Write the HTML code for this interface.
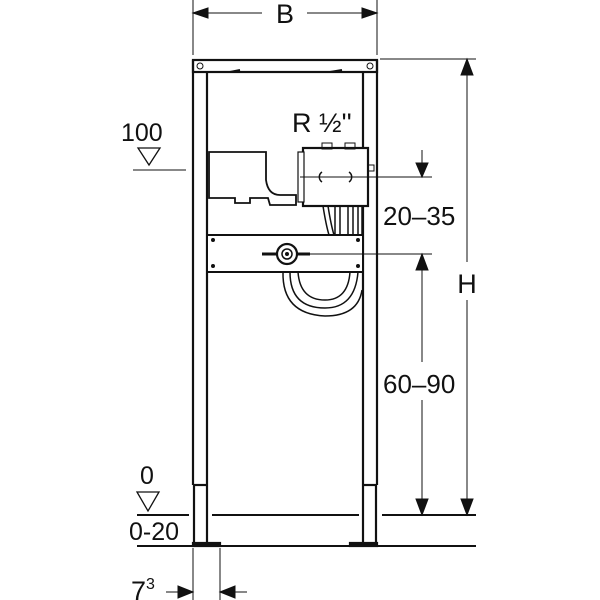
<!DOCTYPE html>
<html><head><style>body{margin:0;background:#fff}svg{display:block}text{font-family:"Liberation Sans",sans-serif;fill:#111}</style></head><body>
<svg width="600" height="600" viewBox="0 0 600 600" stroke="#111" fill="none">
<!-- B dimension -->
<line x1="193" y1="0" x2="193" y2="55" stroke-width="1"/>
<line x1="377" y1="0" x2="377" y2="55" stroke-width="1"/>
<line x1="193" y1="13" x2="262" y2="13"/><line x1="307" y1="13" x2="377" y2="13"/>
<polygon points="193,13 208,8 208,18" fill="#111"/><polygon points="377,13 362,8 362,18" fill="#111"/>
<text x="285" y="23" font-size="27" text-anchor="middle" stroke="none">B</text>
<!-- frame -->
<g stroke-width="2.2">
<rect x="193" y="60" width="184" height="12"/>
<line x1="193" y1="60" x2="193" y2="485"/><line x1="207" y1="72" x2="207" y2="485"/>
<line x1="363" y1="72" x2="363" y2="485"/><line x1="377" y1="60" x2="377" y2="485"/>
<line x1="193" y1="485" x2="207" y2="485"/><line x1="363" y1="485" x2="377" y2="485"/>
<line x1="194" y1="485" x2="194" y2="545"/><line x1="207" y1="485" x2="207" y2="545"/>
<line x1="363" y1="485" x2="363" y2="545"/><line x1="376" y1="485" x2="376" y2="545"/>
<rect x="193" y="543" width="27" height="3" fill="#111"/>
<rect x="350" y="543" width="27" height="3" fill="#111"/>
</g>
<circle cx="200" cy="66" r="3"/><circle cx="370" cy="66" r="3"/>
<line x1="230" y1="72" x2="240" y2="70" stroke-width="2"/><line x1="330" y1="72" x2="342" y2="70" stroke-width="2"/>
<!-- left box -->
<path d="M209,152 H266 V180 Q268,195 280,195 H296 V205 H270 L268,198 H250 V203 H235 V198 H209 Z" stroke-width="1.8" fill="#fff"/>
<!-- right box -->
<rect x="303" y="148" width="65" height="58" stroke-width="2.2" fill="#fff"/>
<rect x="298" y="152" width="6" height="50" stroke-width="1.2" fill="#fff"/>
<rect x="322" y="143" width="10" height="6" stroke-width="1"/><rect x="345" y="143" width="10" height="6" stroke-width="1"/>
<path d="M322,172 a6,6 0 0 0 0,10 M349,172 a6,6 0 0 1 0,10" stroke-width="1.5"/>
<rect x="368" y="165" width="6" height="6" stroke-width="1"/>
<!-- pipes -->
<g stroke-width="1.5">
<path d="M323,206 Q326,225 329,235 M328,206 Q331,225 334,235 M335,206 V235 M340,206 V235 M348,206 V235 M353,206 V235 M358,206 V235 M362,206 V235"/>
<path d="M290,272 Q290,308 325,308 Q355,308 358,272 M298,272 Q300,300 325,300 Q348,300 350,272 M283,272 Q282,314 325,316 Q358,316 362,290"/>
</g>
<!-- board -->
<rect x="207" y="235" width="156" height="37" stroke-width="2" fill="#fff"/>
<circle cx="287" cy="254" r="10" stroke-width="2.2" fill="#fff"/><circle cx="287" cy="254" r="5" stroke-width="1.5"/><circle cx="287" cy="254" r="1.5" fill="#111"/>
<line x1="262" y1="254" x2="277" y2="254" stroke-width="3"/><line x1="297" y1="254" x2="310" y2="254" stroke-width="3"/>
<circle cx="213" cy="240" r="1.5" fill="#111"/><circle cx="213" cy="266" r="1.5" fill="#111"/><circle cx="358" cy="240" r="1.5" fill="#111"/><circle cx="358" cy="266" r="1.5" fill="#111"/>
<!-- text R 1/2 -->
<text x="292" y="132" font-size="27" stroke="none">R ½''</text>
<!-- leader lines -->
<line x1="300" y1="177" x2="432" y2="177" stroke-width="1"/>
<line x1="300" y1="254" x2="432" y2="254" stroke-width="1"/>
<line x1="380" y1="59" x2="476" y2="59" stroke-width="1"/>
<line x1="382" y1="515" x2="476" y2="515" stroke-width="2"/>
<line x1="137" y1="515" x2="189" y2="515" stroke-width="2"/><line x1="212" y1="515" x2="359" y2="515" stroke-width="2"/>
<line x1="137" y1="546" x2="476" y2="546" stroke-width="2"/>
<!-- 20-35 -->
<line x1="422" y1="150" x2="422" y2="165"/><polygon points="422,177 416,163 428,163" fill="#111"/>
<text x="383" y="225" font-size="26" stroke="none">20–35</text>
<!-- 60-90 -->
<line x1="422" y1="265" x2="422" y2="362"/><line x1="422" y1="400" x2="422" y2="505"/>
<polygon points="422,254 416,270 428,270" fill="#111"/><polygon points="422,515 416,499 428,499" fill="#111"/>
<text x="383" y="393" font-size="26" stroke="none">60–90</text>
<!-- H -->
<line x1="467" y1="70" x2="467" y2="262"/><line x1="467" y1="300" x2="467" y2="505"/>
<polygon points="467,59 461,75 473,75" fill="#111"/><polygon points="467,515 461,499 473,499" fill="#111"/>
<text x="467" y="293" font-size="27" text-anchor="middle" stroke="none">H</text>
<!-- 100 -->
<text x="121" y="141" font-size="25" stroke="none">100</text>
<polygon points="138,148 160,148 149,165" stroke-width="1.3"/>
<line x1="133" y1="170" x2="186" y2="170" stroke-width="1"/>
<!-- 0 -->
<text x="140" y="484" font-size="25" stroke="none">0</text>
<polygon points="137,492 159,492 148,511" stroke-width="1.3"/>
<text x="129" y="540" font-size="25" stroke="none">0-20</text>
<!-- 7^3 -->
<line x1="193" y1="548" x2="193" y2="600" stroke-width="1"/><line x1="220" y1="548" x2="220" y2="600" stroke-width="1"/>
<line x1="166" y1="592" x2="180" y2="592"/><polygon points="193,592 178,586 178,598" fill="#111"/>
<line x1="233" y1="592" x2="247" y2="592"/><polygon points="220,592 235,586 235,598" fill="#111"/>
<text x="131" y="600" font-size="27" stroke="none">7<tspan font-size="16" dy="-11">3</tspan></text>
</svg>
</body></html>
